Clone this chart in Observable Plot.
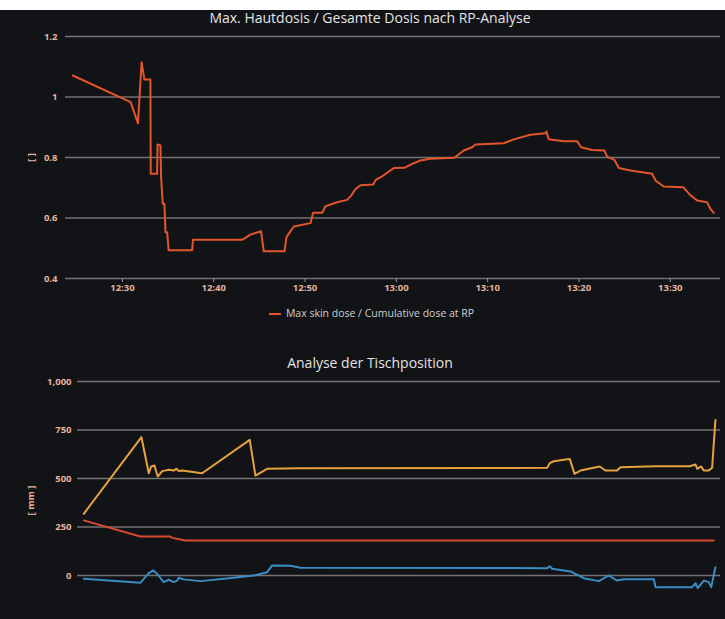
<!DOCTYPE html>
<html>
<head>
<meta charset="utf-8">
<script src="https://cdn.jsdelivr.net/npm/d3@7"></script>
<script src="https://cdn.jsdelivr.net/npm/@observablehq/plot@0.6"></script>
<style>
  html, body { margin:0; padding:0; }
  body { width:725px; height:619px; overflow:hidden; background:#111317; position:relative; font-family:"Open Sans", sans-serif; }
  #band { position:absolute; left:0; top:0; width:725px; height:10px; background:#ffffff; }
  .title { position:absolute; left:0; width:740px; text-align:center; color:#e4e4e4; font-size:14px; line-height:16px; }
  #legend { position:absolute; left:0; width:743px; top:306px; text-align:center; color:#cfcfcf; font-size:10.5px; line-height:14px; }
  #legend .sw { display:inline-block; width:12px; height:2px; background:#e4552c; vertical-align:middle; margin-right:5px; }
  .chart { position:absolute; left:0; }
</style>
</head>
<body>
<div id="band"></div>
<div class="title" style="top:10px">Max. Hautdosis / Gesamte Dosis nach RP-Analyse</div>
<div class="chart" id="c1" style="top:26px"></div>
<div id="legend"><span class="sw"></span>Max skin dose / Cumulative dose at RP</div>
<div class="title" style="top:355px">Analyse der Tischposition</div>
<div class="chart" id="c2" style="top:371px"></div>
<script>
// ---------- data ----------
const xTickLabels = ["12:30","12:40","12:50","13:00","13:10","13:20","13:30"];
const xDomainLabels = ["12:23:46","13:35:30"];

const doseTimes = ["12:24:34","12:30:54","12:31:42","12:32:06","12:32:24","12:33:04","12:33:06","12:33:48","12:33:51","12:34:10",
  "12:34:14","12:34:25","12:34:36","12:34:43","12:34:54","12:35:04","12:37:38","12:37:44","12:43:07","12:44:01",
  "12:45:11","12:45:29","12:47:45","12:47:58","12:48:46","12:50:36","12:50:53","12:51:53","12:52:14","12:53:31",
  "12:54:37","12:55:03","12:55:31","12:56:04","12:57:28","12:57:47","12:58:27","12:59:43","13:00:53","13:01:44",
  "13:02:38","13:03:44","13:06:22","13:07:23","13:08:18","13:08:40","13:11:46","13:12:52","13:14:41","13:16:20",
  "13:16:26","13:16:41","13:18:20","13:19:48","13:20:14","13:21:26","13:22:47","13:23:05","13:23:53","13:24:22",
  "13:25:38","13:28:01","13:28:23","13:29:17","13:31:25","13:32:13","13:32:57","13:34:02","13:34:24","13:34:46"];
const doseValues = [1.071,0.983,0.913,1.115,1.058,1.058,0.746,0.746,0.843,0.840,
  0.735,0.647,0.647,0.553,0.553,0.493,0.493,0.528,0.528,0.545,
  0.556,0.490,0.490,0.537,0.572,0.583,0.617,0.617,0.639,0.652,
  0.660,0.674,0.695,0.708,0.711,0.727,0.738,0.765,0.766,0.779,
  0.790,0.796,0.799,0.823,0.834,0.843,0.847,0.860,0.875,0.880,
  0.886,0.860,0.854,0.854,0.834,0.825,0.823,0.803,0.792,0.765,
  0.757,0.746,0.724,0.704,0.702,0.675,0.658,0.652,0.630,0.617];
const doseTicks = [0.4, 0.6, 0.8, 1, 1.2];

const tableDomain = [-250, 1000];
const tableTicks = [0, 250, 500, 750, 1000];

const orangeTimes = ["12:24:28","12:30:54","12:31:43","12:31:59","12:32:21","12:32:43","12:33:13","12:33:57","12:34:30","12:34:48",
  "12:35:04","12:35:26","12:37:40","12:42:59","12:43:37","12:44:55","12:48:38","13:16:10","13:16:27","13:16:54",
  "13:18:12","13:18:41","13:19:13","13:19:53","13:22:02","13:22:40","13:23:58","13:24:20","13:28:15","13:32:04",
  "13:32:43","13:32:54","13:33:21","13:33:38","13:34:11","13:34:34","13:34:56"];
const orangeValues = [318,713,527,562,567,510,538,545,541,550,
  538,541,527,699,515,550,553,555,579,589,
  598,601,524,541,562,541,541,558,563,563,
  572,550,562,541,541,555,802];

const redTimes = ["12:24:28","12:30:47","12:34:08","12:34:20","12:35:15","12:35:49","13:34:45"];
const redValues = [284,201,201,194,186,180,180];

const blueTimes = ["12:24:28","12:30:47","12:31:43","12:32:13","12:32:39","12:33:23","12:33:57","12:34:30","12:34:53","12:35:04",
  "12:35:37","12:37:29","12:41:12","12:43:26","12:44:55","12:45:29","12:47:31","12:48:38","13:16:10","13:16:27",
  "13:16:43","13:18:46","13:20:15","13:21:55","13:23:02","13:23:58","13:24:43","13:28:04","13:28:15","13:32:20",
  "13:32:43","13:32:58","13:33:38","13:34:11","13:34:28","13:34:56"];
const blueValues = [-17,-38,12,26,9,-34,-22,-34,-26,-12,
  -20,-29,-12,0,17,52,50,40,38,48,
  35,21,-14,-29,0,-26,-19,-19,-60,-60,
  -40,-65,-26,-34,-60,43];

// ---------- build ----------
const parseT = d3.utcParse("%H:%M:%S");
const parseTick = d3.utcParse("%H:%M");
const xDomain = xDomainLabels.map(parseT);
const xTicks = xTickLabels.map(parseTick);
const fmtT = d3.utcFormat("%H:%M");

const zip = (ts, vs) => ts.map((t, i) => ({t: parseT(t), v: vs[i]}));
const dose = zip(doseTimes, doseValues);
const orange = zip(orangeTimes, orangeValues);
const red = zip(redTimes, redValues);
const blue = zip(blueTimes, blueValues);

const axisColor = "#e6b49c";
const gridColor = "#767172";
const baseStyle = {background:"transparent", color:axisColor, fontSize:"9.5px", fontFamily:"Open Sans, sans-serif", fontWeight:"bold"};

const p1 = Plot.plot({
  width:725, height:276, marginTop:10, marginBottom:24, marginLeft:65, marginRight:5,
  style: baseStyle,
  x: {type:"utc", domain:xDomain},
  y: {domain:[0.4, 1.2]},
  marks: [
    Plot.ruleY(doseTicks, {stroke:gridColor, strokeWidth:1.6}),
    Plot.axisY({ticks:doseTicks, tickSize:0, tickPadding:8, tickFormat:d => String(+d.toFixed(1)),
      label:"[ ]", labelAnchor:"center", labelArrow:"none", labelOffset:38}),
    Plot.axisX({ticks:xTicks, tickSize:4, tickPadding:2, tickFormat:fmtT, label:null, stroke:"#9a9a9a"}),
    Plot.line(dose, {x:"t", y:"v", stroke:"#e4552c", strokeWidth:2})
  ]
});
document.getElementById("c1").appendChild(p1);

const p2 = Plot.plot({
  width:725, height:248, marginTop:10, marginBottom:0, marginLeft:77, marginRight:5,
  style: baseStyle,
  x: {type:"utc", domain:xDomain, axis:null},
  y: {domain:tableDomain, range:[252.5, 10]},
  marks: [
    Plot.ruleY(tableTicks, {stroke:gridColor, strokeWidth:1.6}),
    Plot.axisY({ticks:tableTicks, tickSize:0, tickPadding:6, tickFormat:d3.format(","),
      label:"[ mm ]", labelAnchor:"center", labelArrow:"none", labelOffset:50}),
    Plot.line(red, {x:"t", y:"v", stroke:"#d84a2e", strokeWidth:2}),
    Plot.line(blue, {x:"t", y:"v", stroke:"#3a8cc2", strokeWidth:2}),
    Plot.line(orange, {x:"t", y:"v", stroke:"#e6a23e", strokeWidth:2})
  ]
});
document.getElementById("c2").appendChild(p2);
</script>
</body>
</html>
